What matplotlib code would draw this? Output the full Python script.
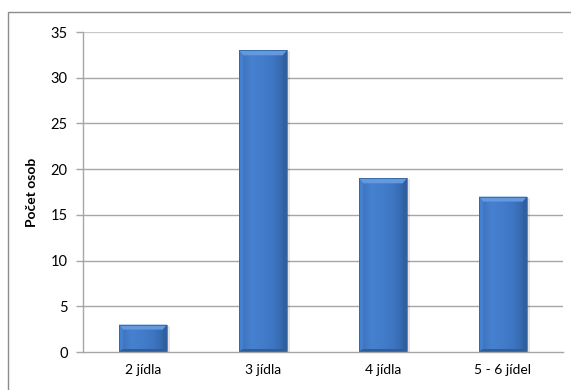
import matplotlib.pyplot as plt
import numpy as np
from matplotlib.patches import Polygon, Rectangle
from matplotlib.colors import LinearSegmentedColormap

categories = ['2 jídla', '3 jídla', '4 jídla', '5 - 6 jídel']
counts = [3, 33, 19, 17]
y_ticks = [0, 5, 10, 15, 20, 25, 30, 35]

plt.rcParams['font.family'] = ['Lato', 'DejaVu Sans']

W, H, DPI = 571, 390, 100
fig = plt.figure(figsize=(W / DPI, H / DPI), dpi=DPI)

# outer chart frame (left and top edges only show inside the image)
fig.patches.append(Rectangle((8 / W, -0.1), 1.2, (H - 12) / H + 0.1,
                             transform=fig.transFigure, fill=False,
                             edgecolor='#8c8c8c', linewidth=1.0))

ax = fig.add_axes([83 / W, 38 / H, 480 / W, 320 / H])
ax.set_xlim(-0.5, len(categories) - 0.5)
ax.set_ylim(0, 35)

for v in y_ticks[1:]:
    ax.axhline(v, color='#a6a6a6' if v < 35 else '#c8c8c8',
               linewidth=1.0 if v < 35 else 1.6, zorder=0)

x = np.arange(len(categories))
bars = ax.bar(x, counts, width=0.4, color='#3f75bf', zorder=2)

# pixel -> data unit conversions for the bevel depth
px_x = 1.0 / (480 / 4.0)
px_y = 35.0 / 320
dx, dy_top, dy_bot = 4 * px_x, 5 * px_y, 3 * px_y

body = LinearSegmentedColormap.from_list(
    'body', ['#3b71b9', '#4680cf', '#427dcb', '#3c74c0', '#30609f'])
grad = np.linspace(0, 1, 64).reshape(1, -1)

for b in bars:
    x0, w, h = b.get_x(), b.get_width(), b.get_height()
    x1 = x0 + w
    # soft shadow on the right
    ax.add_patch(Rectangle((x0 + 2 * px_x, 0), w + 1 * px_x, h - 1 * px_y,
                           color='#000000', alpha=0.10, zorder=1, linewidth=0))
    im = ax.imshow(grad, cmap=body, aspect='auto', extent=(x0, x1, 0, h),
                   zorder=2.1, interpolation='bilinear')
    im.set_clip_path(b)
    # bevel faces
    top = Polygon([(x0, h), (x1, h), (x1 - dx, h - dy_top), (x0 + dx, h - dy_top)],
                  closed=True, facecolor='#6499de', edgecolor='none', zorder=2.2)
    left = Polygon([(x0, h), (x0 + dx, h - dy_top), (x0 + dx, dy_bot), (x0, 0)],
                   closed=True, facecolor='#4380cf', edgecolor='none', zorder=2.2)
    right = Polygon([(x1, h), (x1 - dx, h - dy_top), (x1 - dx, dy_bot), (x1, 0)],
                    closed=True, facecolor='#315f9f', edgecolor='none', zorder=2.2)
    bottom = Polygon([(x0, 0), (x1, 0), (x1 - dx, dy_bot), (x0 + dx, dy_bot)],
                     closed=True, facecolor='#2f5c9a', edgecolor='none', zorder=2.2)
    for p in (top, left, right, bottom):
        ax.add_patch(p)
    ax.add_patch(Rectangle((x0, 0), w, h, fill=False, edgecolor='#2f5d9b',
                           linewidth=0.5, zorder=2.3))

ax.set_xticks(x)
ax.set_xticklabels(categories)
ax.set_yticks(y_ticks)
ax.tick_params(axis='x', length=0, pad=9, labelsize=10, colors='#000000')
ax.tick_params(axis='y', length=5, width=1, color='#a6a6a6', pad=6,
               labelsize=10.5, colors='#000000')
ax.set_ylabel('Počet osob', fontsize=10, fontweight='bold', labelpad=9)

for s in ('top', 'right'):
    ax.spines[s].set_visible(False)
for s in ('left', 'bottom'):
    ax.spines[s].set_color('#a6a6a6')
    ax.spines[s].set_linewidth(1.0)

fig.savefig('out.png', dpi=DPI)
